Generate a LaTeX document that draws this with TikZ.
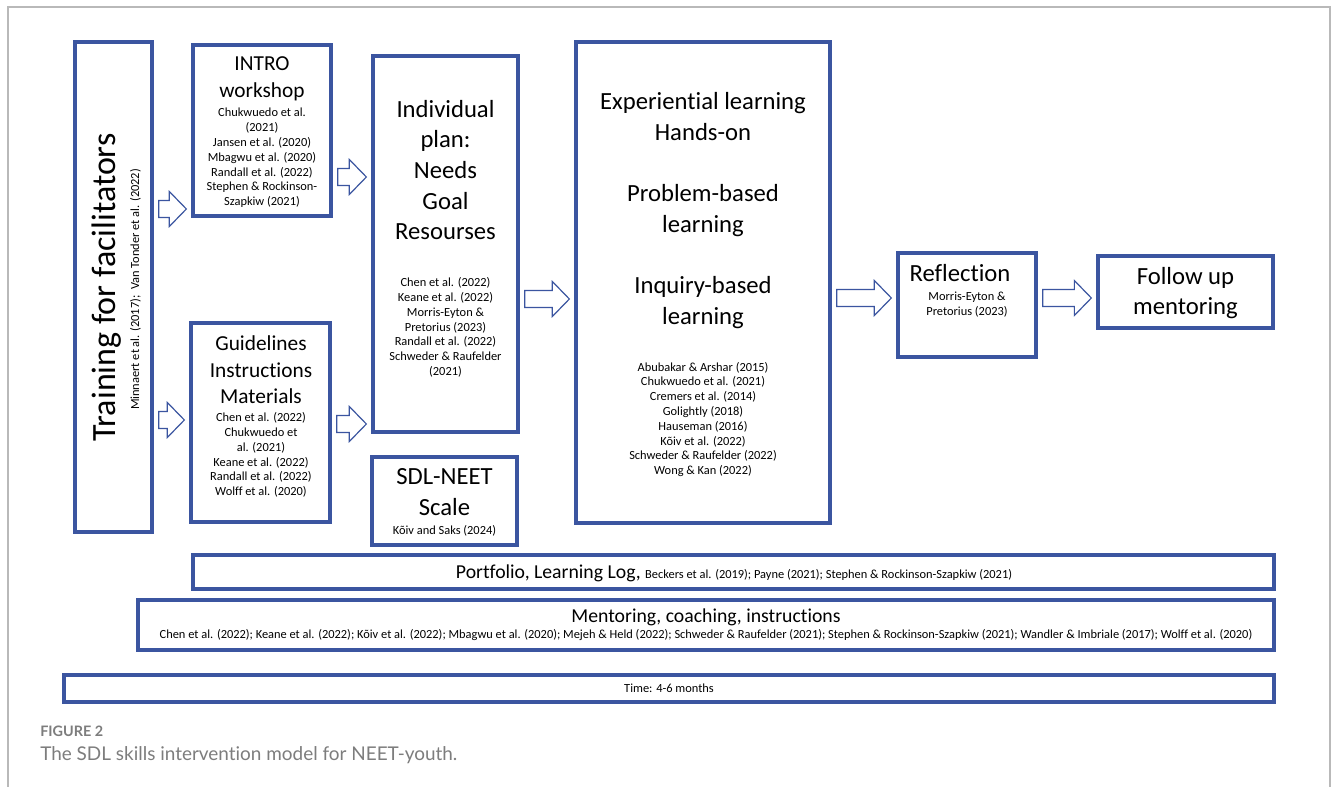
\documentclass[tikz,border=0pt]{standalone}
\usepackage{fontspec}
\setmainfont{Carlito}[Ligatures=NoCommon]
\newfontfamily\capfont{Lato}[Ligatures=NoCommon]
\usepackage{tikz}
\usetikzlibrary{positioning,calc,fit}

\definecolor{boxblue}{RGB}{59,85,160}
\definecolor{framegray}{RGB}{185,185,185}
\definecolor{capgray}{RGB}{125,125,125}

\newcommand{\citesize}{\fontsize{9.3}{11.1}\selectfont}
\newcommand{\headsize}{\fontsize{16}{20}\selectfont}
\newcommand{\barsize}{\fontsize{14.8}{18}\selectfont}
\newcommand{\bigsize}{\fontsize{18.5}{23}\selectfont}

\tikzset{
  box/.style={draw=boxblue, line width=2.5pt, inner sep=0pt},
  bigtext/.style={align=center, font=\bigsize, inner sep=0pt},
  headtext/.style={align=center, font=\headsize, inner sep=0pt},
  citetext/.style={align=center, font=\citesize, inner sep=0pt},
  blockline/.style={draw=boxblue, line width=0.9pt, fill=white, line join=miter}
}

% block arrow from box #1 to box #2 at height #3
\newcommand{\blockarrow}[3]{%
  \path (0,#3) coordinate (ba-y);
  \path (#1.east |- ba-y) coordinate (ba-s) (#2.west |- ba-y) coordinate (ba-e);
  \draw[blockline] ($(ba-s)+(5,-8.5)$) -- ($(ba-e)+(-22,-8.5)$) -- ($(ba-e)+(-22,-17.5)$)
    -- ($(ba-e)+(-5,0)$) -- ($(ba-e)+(-22,17.5)$) -- ($(ba-e)+(-22,8.5)$) -- ($(ba-s)+(5,8.5)$) -- cycle;}

\begin{document}
\begin{tikzpicture}[x=0.75pt,y=-0.75pt]
    \fill[white] (0,0) rectangle (1333,787);
    \useasboundingbox (0,0) rectangle (1333,787);

    % Frame
    \draw[framegray, line width=1.4pt] (8,787) -- (8,7) -- (1330,7) -- (1330,787);

    % Training for facilitators
    \node[box, fit={(75,42) (152,532)}] (train) {};
    \node[rotate=90, anchor=base, inner sep=0pt, font=\fontsize{25.5}{30}\selectfont] (trainlbl) at (115,287.5) {Training for facilitators};
    \node[rotate=90, anchor=base, inner sep=0pt, font=\citesize] (traincite) at (139,289.5) {Minnaert et al. (2017);\ \ Van Tonder et al. (2022)};

    % INTRO workshop
    \node[box, fit={(193,45) (331,216)}] (intro) {};
    \node[headtext] (introlbl) at (262,79) {INTRO\\workshop};
    \node[citetext] (introcite) at (262,158) {Chukwuedo et al.\\(2021)\\Jansen et al. (2020)\\Mbagwu et al. (2020)\\Randall et al. (2022)\\Stephen \& Rockinson-\\Szapkiw (2021)};

    % Guidelines
    \node[box, fit={(191,323) (330,522)}] (guide) {};
    \node[headtext] (guidelbl) at (261,370) {Guidelines\\Instructions\\Materials};
    \node[citetext] (guidecite) at (261,455) {Chen et al. (2022)\\Chukwuedo et\\al. (2021)\\Keane et al. (2022)\\Randall et al. (2022)\\Wolff et al. (2020)};

    % Individual plan
    \node[box, fit={(373,56) (518,432)}] (plan) {};
    \node[bigtext] (planlbl) at (445.5,170) {Individual\\plan:\\Needs\\Goal\\Resourses};
    \node[citetext] (plancite) at (445.5,327.5) {Chen et al. (2022)\\Keane et al. (2022)\\Morris-Eyton \&\\Pretorius (2023)\\Randall et al. (2022)\\Schweder \& Raufelder\\(2021)};

    % SDL-NEET scale
    \node[box, fit={(372,457) (517,545)}] (sdl) {};
    \node[bigtext] (sdllbl) at (444.5,492) {SDL-NEET\\Scale};
    \node[citetext] (sdlcite) at (444.5,530.5) {Kõiv and Saks (2024)};

    % Experiential learning
    \node[box, fit={(576,42) (830,523)}] (exp) {};
    \node[bigtext] (explbl) at (703,210.5) {Experiential learning\\Hands-on\\[23pt]Problem-based\\learning\\[23pt]Inquiry-based\\learning};
    \node[citetext] (expcite) at (703,419.5) {Abubakar \& Arshar (2015)\\Chukwuedo et al. (2021)\\Cremers et al. (2014)\\Golightly (2018)\\Hauseman (2016)\\Kõiv et al. (2022)\\Schweder \& Raufelder (2022)\\Wong \& Kan (2022)};

    % Reflection
    \node[box, fit={(898,253) (1036,357)}] (refl) {};
    \node[bigtext] (refllbl) at (960,273.5) {Reflection};
    \node[citetext] (reflcite) at (967,304.5) {Morris-Eyton \&\\Pretorius (2023)};

    % Follow up
    \node[box, fit={(1098,256) (1273,328)}] (follow) {};
    \node[bigtext] (followlbl) at (1185.5,293) {Follow up\\mentoring};

    % Arrows
    \blockarrow{train}{intro}{209}
    \blockarrow{train}{guide}{420}
    \blockarrow{intro}{plan}{177}
    \blockarrow{guide}{plan}{424}
    \blockarrow{plan}{exp}{299}
    \blockarrow{exp}{refl}{298}
    \blockarrow{refl}{follow}{298}

    % Portfolio
    \node[box, fit={(193,555) (1274,589)}] (portf) {};
    \node[inner sep=0pt] (portflbl) at (734,573) {\barsize Portfolio, Learning Log, \citesize Beckers et al. (2019); Payne (2021); Stephen \& Rockinson-Szapkiw (2021)};

    % Mentoring
    \node[box, fit={(138,600) (1274,650)}] (mentor) {};
    \node[align=center, inner sep=0pt, font=\barsize] (mentorlbl) at (706,617.5) {Mentoring, coaching, instructions};
    \node[citetext] (mentorcite) at (706,635.5) {Chen et al. (2022); Keane et al. (2022); Kõiv et al. (2022); Mbagwu et al. (2020); Mejeh \& Held (2022); Schweder \& Raufelder (2021); Stephen \& Rockinson-Szapkiw (2021); Wandler \& Imbriale (2017); Wolff et al. (2020)};

    % Time
    \node[box, fit={(64,675) (1274,702)}] (time) {};
    \node[citetext] (timelbl) at (669,688.5) {Time: 4-6 months};

    % Caption
    \node[anchor=west, inner sep=0pt, text=capgray, font=\capfont\bfseries\fontsize{10.8}{13}\selectfont] (figno) at (40,731) {FIGURE 2};
    \node[anchor=west, inner sep=0pt, text=capgray, font=\capfont\fontsize{14.2}{17}\selectfont] (figcap) at (40,755) {The SDL skills intervention model for NEET-youth.};
\end{tikzpicture}
\end{document}
